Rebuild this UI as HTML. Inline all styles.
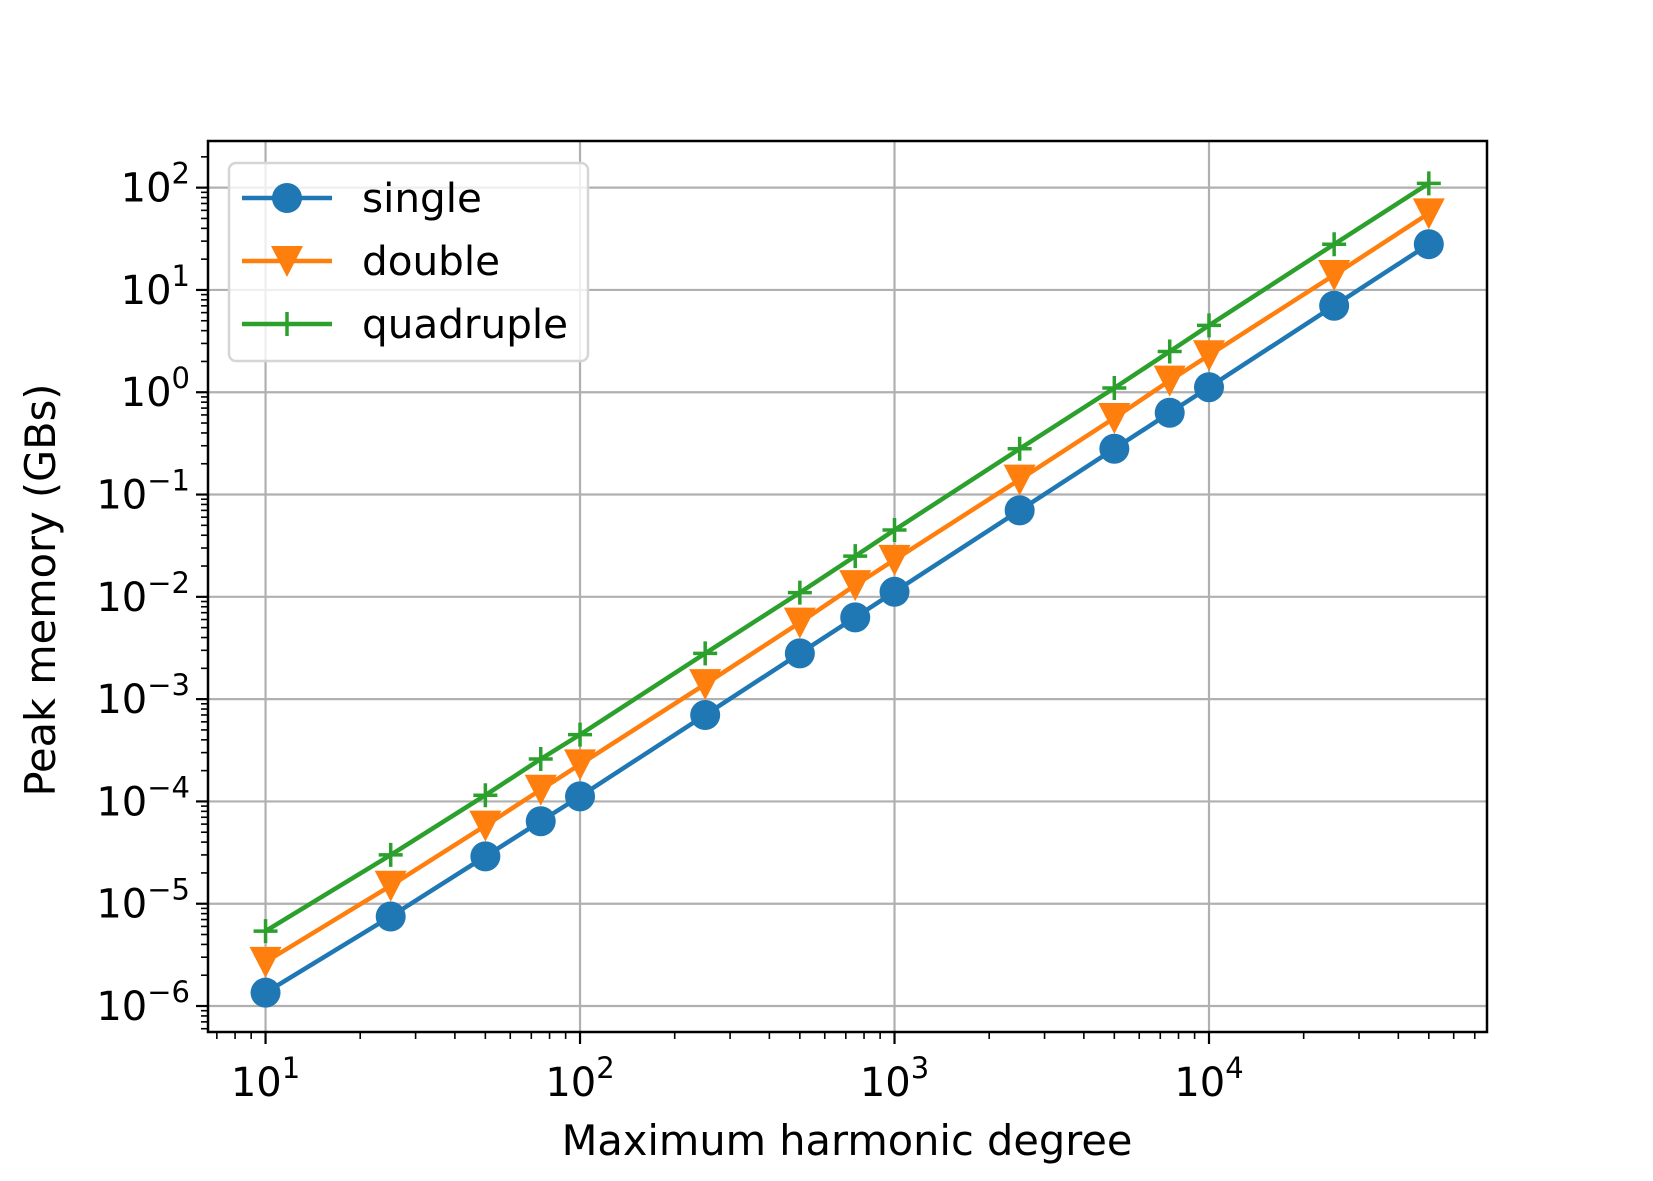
<!DOCTYPE html>
<html><head><meta charset="utf-8"><style>body{margin:0;background:#fff}svg{display:block;font-family:"DejaVu Sans","Liberation Sans",sans-serif}</style></head>
<body>
<svg id="chart" width="1653" height="1181" xmlns="http://www.w3.org/2000/svg">
<rect width="1653" height="1181" fill="#fff"/>
<g id="grid"></g>
<g id="series"></g>
<rect x="208" y="141" width="1279" height="891" fill="none" stroke="#000" stroke-width="2.5"/>
<g id="ticks"></g>
<text x="847" y="1155" font-size="41.5" text-anchor="middle">Maximum harmonic degree</text>
<text transform="translate(55,590) rotate(-90)" font-size="41.5" text-anchor="middle">Peak memory (GBs)</text>
<g id="legend"></g>
</svg>
<script>
const degrees=[10,25,50,75,100,250,500,750,1000,2500,5000,7500,10000,25000,50000];
const singleVals=[1.35e-6,7.5e-6,2.9e-5,6.4e-5,1.12e-4,7e-4,2.8e-3,6.3e-3,1.12e-2,7e-2,2.8e-1,6.3e-1,1.12,7.0,28];
const doubleVals=[2.7e-6,1.5e-5,5.8e-5,1.3e-4,2.3e-4,1.4e-3,5.6e-3,1.3e-2,2.3e-2,1.4e-1,5.6e-1,1.3,2.3,14,56];
const quadVals=[5.4e-6,3e-5,1.15e-4,2.6e-4,4.5e-4,2.8e-3,1.1e-2,2.5e-2,4.5e-2,2.8e-1,1.1,2.5,4.5,28,110];
const xTickExp=[1,2,3,4];
const yTickExp=[-6,-5,-4,-3,-2,-1,0,1,2];
const NS='http://www.w3.org/2000/svg';
const L=208,R=1487,T=141,B=1032;
const xmin=0.817,xmax=4.884,ymin=-6.254,ymax=2.456;
const X=v=>L+(Math.log10(v)-xmin)/(xmax-xmin)*(R-L);
const Y=v=>B-(Math.log10(v)-ymin)/(ymax-ymin)*(B-T);
function mk(tag,attrs,parent){const e=document.createElementNS(NS,tag);for(const k in attrs)e.setAttribute(k,attrs[k]);parent.appendChild(e);return e;}
const grid=document.getElementById('grid'),ticks=document.getElementById('ticks'),ser=document.getElementById('series'),leg=document.getElementById('legend');
xTickExp.forEach(e=>{const x=X(Math.pow(10,e));
 const g=mk('line',{x1:x,x2:x,y1:T,y2:B,stroke:'#b0b0b0','stroke-width':2.2},grid);
 
 mk('line',{x1:x,x2:x,y1:B,y2:B+12,stroke:'#000','stroke-width':2.2},ticks);
 const t=mk('text',{x:x,y:B+64,'font-size':40,'text-anchor':'middle'},ticks);
 
 t.innerHTML='10<tspan dy="-18" font-size="29">'+e+'</tspan>';});
for(let e=0;e<=4;e++)for(let m=2;m<10;m++){const v=m*Math.pow(10,e);const lv=Math.log10(v);if(lv<xmin||lv>xmax)continue;const x=X(v);mk('line',{x1:x,x2:x,y1:B,y2:B+7,stroke:'#000','stroke-width':1.6},ticks);}
yTickExp.forEach(e=>{const y=Y(Math.pow(10,e));
 const g=mk('line',{x1:L,x2:R,y1:y,y2:y,stroke:'#b0b0b0','stroke-width':2.2},grid);
 
 mk('line',{x1:L-12,x2:L,y1:y,y2:y,stroke:'#000','stroke-width':2.2},ticks);
 const t=mk('text',{x:L-18,y:y+14,'font-size':40,'text-anchor':'end'},ticks);
 
 t.innerHTML='10<tspan dy="-18" font-size="29">'+(e<0?'\u2212'+(-e):e)+'</tspan>';});
for(let e=-7;e<=2;e++)for(let m=2;m<10;m++){const v=m*Math.pow(10,e);const lv=Math.log10(v);if(lv<ymin||lv>ymax)continue;const y=Y(v);mk('line',{x1:L-7,x2:L,y1:y,y2:y,stroke:'#000','stroke-width':1.6},ticks);}
function marker(kind,x,y,col,p){
 if(kind==='o')return mk('circle',{cx:x,cy:y,r:15,fill:col},p);
 if(kind==='v')return mk('polygon',{points:`${x-16},${y-15} ${x+16},${y-15} ${x},${y+16}`,fill:col},p);
 return mk('path',{d:`M${x-12},${y}H${x+12}M${x},${y-12}V${y+12}`,stroke:col,'stroke-width':3.5,fill:'none'},p);}
const S=[{n:'single',v:singleVals,c:'#1f77b4',m:'o'},{n:'double',v:doubleVals,c:'#ff7f0e',m:'v'},{n:'quadruple',v:quadVals,c:'#2ca02c',m:'+'}];
S.forEach(s=>{const g=mk('g',{},ser);
 const pl=mk('polyline',{points:degrees.map((d,i)=>X(d)+','+Y(s.v[i])).join(' '),fill:'none',stroke:s.c,'stroke-width':4.5},g);
 
 degrees.forEach((d,i)=>{const m=marker(s.m,X(d),Y(s.v[i]),s.c,g);});});
const box=mk('rect',{x:229,y:163,width:359,height:198,rx:7,fill:'rgba(255,255,255,0.8)',stroke:'#d5d5d5','stroke-width':2.5},leg);

S.forEach((s,i)=>{const y=198+i*63;const g=mk('g',{},leg);
 mk('line',{x1:242,x2:332,y1:y,y2:y,stroke:s.c,'stroke-width':4.5},g);marker(s.m,287,y,s.c,g);
 const t=mk('text',{x:362,y:y+14,'font-size':40.5},g);t.textContent=s.n;});
</script>
</body></html>
